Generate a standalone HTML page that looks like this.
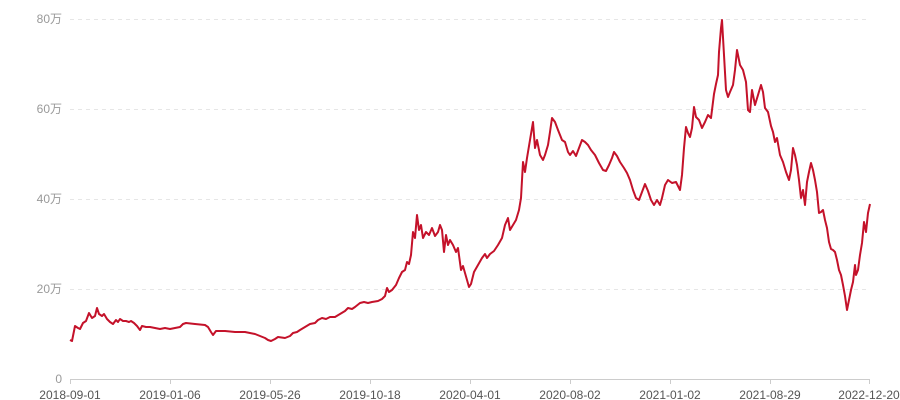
<!DOCTYPE html>
<html><head><meta charset="utf-8"><style>
html,body{margin:0;padding:0;background:#fff;width:900px;height:400px;overflow:hidden}
text{font-family:"Liberation Sans","Noto Sans CJK SC",sans-serif;font-size:12px}
</style></head><body>
<svg width="900" height="400" xmlns="http://www.w3.org/2000/svg">
<g stroke="#e6e6e6" stroke-dasharray="4,4" stroke-width="1">
<line x1="70" y1="19.5" x2="870" y2="19.5"/><line x1="70" y1="109.5" x2="870" y2="109.5"/>
<line x1="70" y1="199.5" x2="870" y2="199.5"/><line x1="70" y1="289.5" x2="870" y2="289.5"/>
</g>
<g fill="#999" text-anchor="end">
<text x="62" y="23">80万</text><text x="62" y="113">60万</text><text x="62" y="203">40万</text><text x="62" y="293">20万</text><text x="62" y="383">0</text>
</g>
<line x1="70" y1="379.5" x2="870" y2="379.5" stroke="#ccc"/>
<g stroke="#ccc">
<line x1="70.5" y1="379" x2="70.5" y2="384"/><line x1="170.5" y1="379" x2="170.5" y2="384"/><line x1="270.5" y1="379" x2="270.5" y2="384"/><line x1="370.5" y1="379" x2="370.5" y2="384"/><line x1="470.5" y1="379" x2="470.5" y2="384"/><line x1="570.5" y1="379" x2="570.5" y2="384"/><line x1="670.5" y1="379" x2="670.5" y2="384"/><line x1="770.5" y1="379" x2="770.5" y2="384"/><line x1="869.5" y1="379" x2="869.5" y2="384"/>
</g>
<g fill="#555" text-anchor="middle">
<text x="70" y="399">2018-09-01</text><text x="170" y="399">2019-01-06</text><text x="270" y="399">2019-05-26</text><text x="370" y="399">2019-10-18</text><text x="470" y="399">2020-04-01</text><text x="570" y="399">2020-08-02</text><text x="670" y="399">2021-01-02</text><text x="770" y="399">2021-08-29</text><text x="869" y="399">2022-12-20</text>
</g>
<polyline fill="none" stroke="#c4122a" stroke-width="2" stroke-linejoin="round" points="70,340 72,341 75,326 78,328 80,329 83,323 86,321 89,313 92,318 95,316 97,308 99,314 102,316 104,314 107,319 110,322 113,324 116,320 118,322 120,319 123,321 126,321 129,322 131,321 134,323 137,326 140,330 142,326 146,327 150,327 155,328 160,329 165,328 170,329 175,328 180,327 183,324 186,323 195,324 205,325 208,327 211,332 213,335 216,331 220,331 225,331 235,332 245,332 255,334 260,336 265,338 268,340 271,341 275,339 278,337 285,338 290,336 293,333 297,332 300,330 305,327 310,324 315,323 318,320 322,318 326,319 330,317 335,317 340,314 345,311 348,308 352,309 355,307 360,303 364,302 368,303 372,302 378,301 382,299 385,296 387,288 389,292 392,290 396,285 399,278 402,272 405,270 407,262 409,264 411,255 413,232 415,238 417,215 419,230 421,225 423,238 426,232 429,235 432,228 435,236 438,232 440,225 442,230 444,252 446,235 448,245 450,240 453,245 456,252 458,248 461,270 463,266 465,273 467,280 469,287 471,284 474,272 478,265 482,258 485,254 487,258 490,254 494,251 498,245 502,238 505,225 508,218 510,230 513,225 516,220 519,210 521,198 523,162 525,172 527,158 530,140 533,122 535,148 537,140 540,155 543,160 545,155 548,145 550,132 552,118 555,122 558,130 562,140 565,142 568,152 570,155 573,151 576,156 579,148 582,140 585,142 588,145 591,150 595,155 599,163 603,170 606,171 609,165 612,158 614,152 617,156 620,162 624,168 627,173 630,180 633,190 636,198 639,200 642,192 645,184 648,191 651,200 654,205 657,200 660,205 662,198 665,185 668,180 672,183 676,182 680,190 682,175 684,148 686,127 688,133 690,137 692,128 694,107 696,117 699,120 702,128 705,122 708,115 711,118 714,94 716,84 718,75 719,52 721,28 722,20 724,55 726,90 728,97 730,92 733,85 735,70 737,50 740,65 743,70 746,82 748,110 750,112 752,90 755,105 758,95 761,85 763,92 765,108 768,112 771,126 773,132 775,142 777,138 780,155 783,162 786,172 789,180 791,170 793,148 795,155 797,165 799,180 801,198 803,190 805,205 807,182 809,172 811,163 813,170 815,180 817,192 819,213 821,212 823,210 825,220 827,228 829,242 831,249 833,250 835,252 837,260 839,270 841,275 843,285 845,296 847,310 849,300 851,290 853,282 855,265 856,275 858,270 860,255 862,243 864,222 866,232 868,213 870,204"/>
</svg>
</body></html>
